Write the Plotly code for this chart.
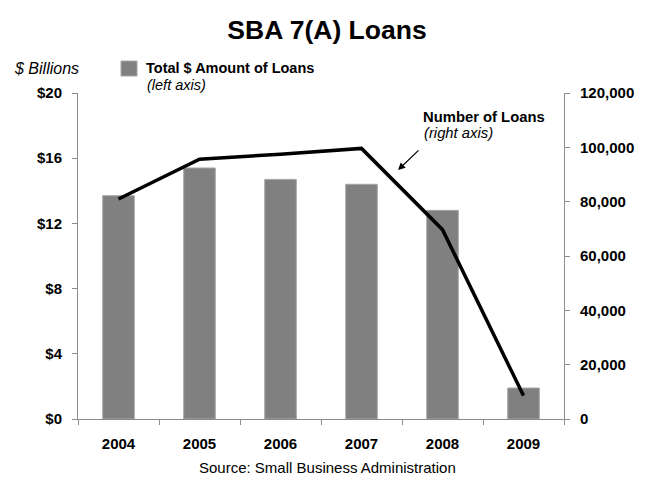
import plotly.graph_objects as go

years = ["2004", "2005", "2006", "2007", "2008", "2009"]
amount_billions = [13.7, 15.4, 14.7, 14.4, 12.8, 1.9]
num_loans = [81000, 95600, 97500, 99600, 69700, 8600]

OFF = 8  # page body margin
W, H = 654 - OFF, 483 - OFF
# plot area in reference-screen pixels
L, R, T, B = 78, 564, 93, 419

def px(x):
    return (x - L) / (R - L)

def py(y):
    return (B - y) / (B - T)

FONT = "Liberation Sans, Arial, sans-serif"

fig = go.Figure()
fig.add_trace(go.Bar(
    x=years, y=amount_billions, name="Total $ Amount of Loans",
    marker=dict(color="#808080", line=dict(color="#a6a6a6", width=1)),
    width=0.39, yaxis="y",
))
fig.add_trace(go.Scatter(
    x=years, y=num_loans, name="Number of Loans", mode="lines",
    line=dict(color="black", width=3.5), yaxis="y2",
))

tf = dict(size=15, weight="bold", family=FONT, color="black")
fig.update_layout(
    width=W, height=H,
    margin=dict(l=L - OFF, r=W - (R - OFF), t=T - OFF, b=H - (B - OFF), autoexpand=False),
    paper_bgcolor="white", plot_bgcolor="white",
    showlegend=False,
    font=dict(family=FONT, color="black"),
    title=dict(text="<b>SBA 7(A) Loans</b>", x=(327 - OFF) / W, xanchor="center",
               y=1 - (30 - OFF) / H, yanchor="middle", font=dict(size=26.5, family=FONT)),
    xaxis=dict(type="category", showline=True, linecolor="#8c8c8c", linewidth=1,
               ticks="outside", tickson="boundaries", ticklen=5, tickcolor="#8c8c8c",
               tickfont=tf, showgrid=False, ticklabelstandoff=11, automargin=False),
    yaxis=dict(range=[0, 20], dtick=4, tickprefix="$", showline=True,
               linecolor="#8c8c8c", ticks="outside", ticklen=5, tickcolor="#8c8c8c",
               tickfont=tf, showgrid=False, zeroline=False,
               ticklabelstandoff=7, automargin=False),
    yaxis2=dict(range=[0, 120000], dtick=20000, tickformat=",", overlaying="y",
                side="right", showline=True, linecolor="#8c8c8c", ticks="outside",
                ticklen=5, tickcolor="#8c8c8c", tickfont=tf,
                showgrid=False, zeroline=False, ticklabelstandoff=7, automargin=False),
)

# Legend square for bars
fig.add_shape(type="rect", xref="paper", yref="paper",
              x0=px(121), x1=px(137), y0=py(76), y1=py(61),
              fillcolor="#808080", line=dict(color="#a6a6a6", width=1))

ann = [
    dict(text="<i>$ Billions</i>", x=px(12), y=py(68), xanchor="left", size=16),
    dict(text="<b>Total $ Amount of Loans</b>", x=px(144), y=py(68), xanchor="left", size=14.5),
    dict(text="<i>(left axis)</i>", x=px(145), y=py(85), xanchor="left", size=14.5),
    dict(text="<b>Number of Loans</b>", x=px(421), y=py(117), xanchor="left", size=14.8),
    dict(text="<i>(right axis)</i>", x=px(422), y=py(133), xanchor="left", size=14.8),
    dict(text="Source: Small Business Administration", x=px(327), y=py(467), xanchor="center", size=15),
]
for a in ann:
    fig.add_annotation(text=a["text"], x=a["x"], y=a["y"], xref="paper", yref="paper",
                       xanchor=a["xanchor"], yanchor="middle", showarrow=False,
                       font=dict(size=a["size"], family=FONT, color="black"))

# Arrow pointing at the line
fig.add_annotation(x=px(398), y=py(170), ax=22, ay=-21,
                   xref="paper", yref="paper", axref="pixel", ayref="pixel",
                   text="", showarrow=True, arrowhead=2, arrowsize=1.2,
                   arrowwidth=1.2, arrowcolor="black")

fig.write_html("out.html")
